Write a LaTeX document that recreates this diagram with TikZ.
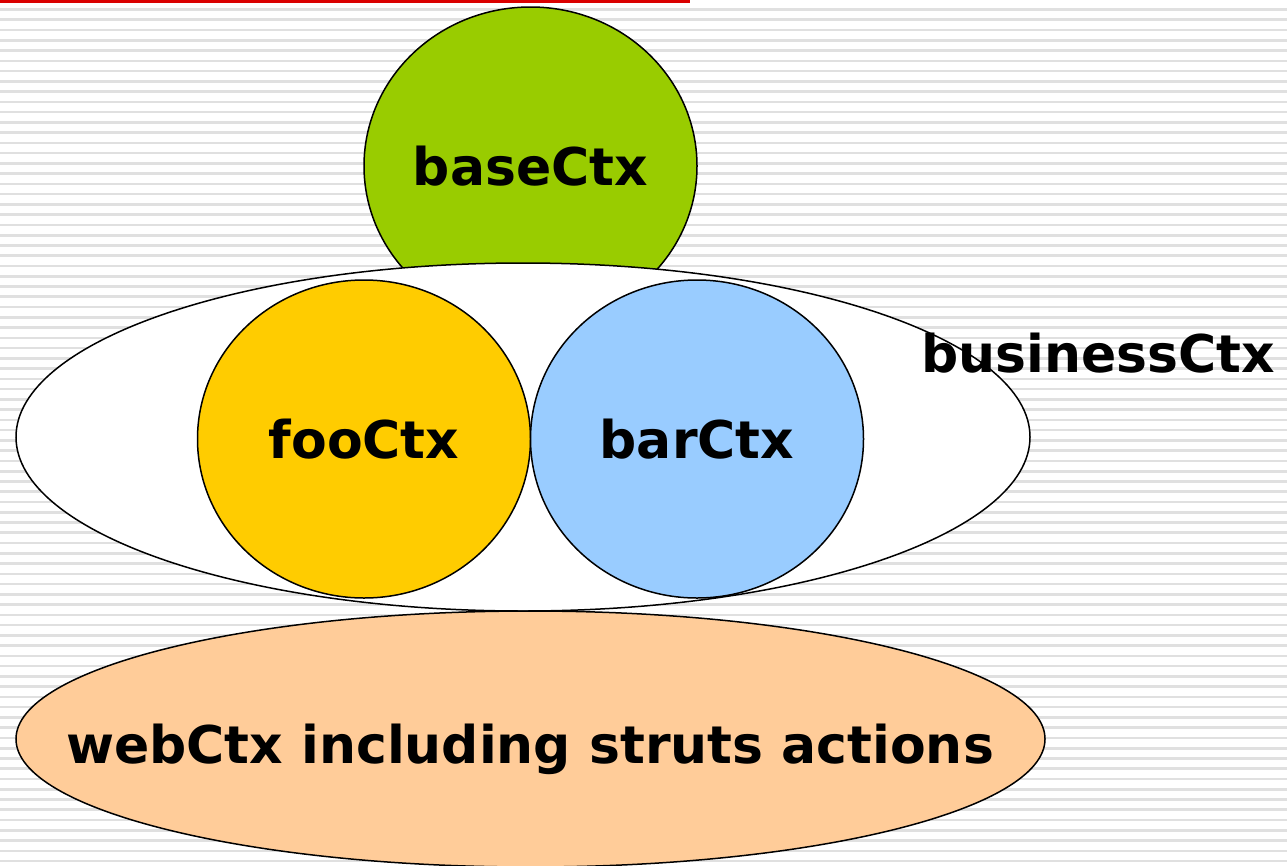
\documentclass[tikz,border=0pt]{standalone}
\usepackage{fontspec}
\setmainfont{DejaVu Sans}
\usetikzlibrary{shapes.geometric}

\definecolor{ctxgreen}{RGB}{153,204,0}
\definecolor{ctxyellow}{RGB}{255,204,0}
\definecolor{ctxblue}{RGB}{153,204,255}
\definecolor{ctxpeach}{RGB}{255,204,153}
\definecolor{titlered}{RGB}{218,0,0}
\definecolor{ruled}{RGB}{224,224,224}

\tikzstyle{ctx}      = [ellipse, draw, line width=1.5pt, inner sep=0pt, font=\fontsize{52}{62}\selectfont\bfseries]
\tikzstyle{childctx} = [ctx, minimum width=333pt, minimum height=318pt]
\tikzstyle{basectx}  = [childctx, fill=ctxgreen]
\tikzstyle{fooctx}   = [childctx, fill=ctxyellow]
\tikzstyle{barctx}   = [childctx, fill=ctxblue]
\tikzstyle{bizctx}   = [ctx, fill=white, minimum width=1014pt, minimum height=348pt]
\tikzstyle{webctx}   = [ctx, fill=ctxpeach, minimum width=1029pt, minimum height=256pt]
\tikzstyle{tag}      = [inner sep=0pt, anchor=base, font=\fontsize{52}{62}\selectfont\bfseries]

\begin{document}
\begin{tikzpicture}[x=1pt, y=-1pt]
\useasboundingbox (0,0) rectangle (1287,865);

% ruled paper
\foreach \k in {0,...,83}
  \draw[ruled, line width=2.6pt] (0,9.5+10.26*\k) -- (1287,9.5+10.26*\k);
\fill[titlered] (0,0) rectangle (690,2.8);

% contexts, parent first
\node (base) [basectx] at (530.5,166) {baseCtx};
\node (business) [bizctx] at (523,437) {};
\node (foo) [fooctx] at (364,439) {fooCtx};
\node (bar) [barctx] at (697,439) {barCtx};
\node (web) [webctx] at (530.5,739) {};

% labels that are not centred in a single ellipse
\node (weblabel) [tag] at (530,763) {webCtx including struts actions};
\node (businesslabel) [tag] at (1098,372) {businessCtx};
\end{tikzpicture}
\end{document}
